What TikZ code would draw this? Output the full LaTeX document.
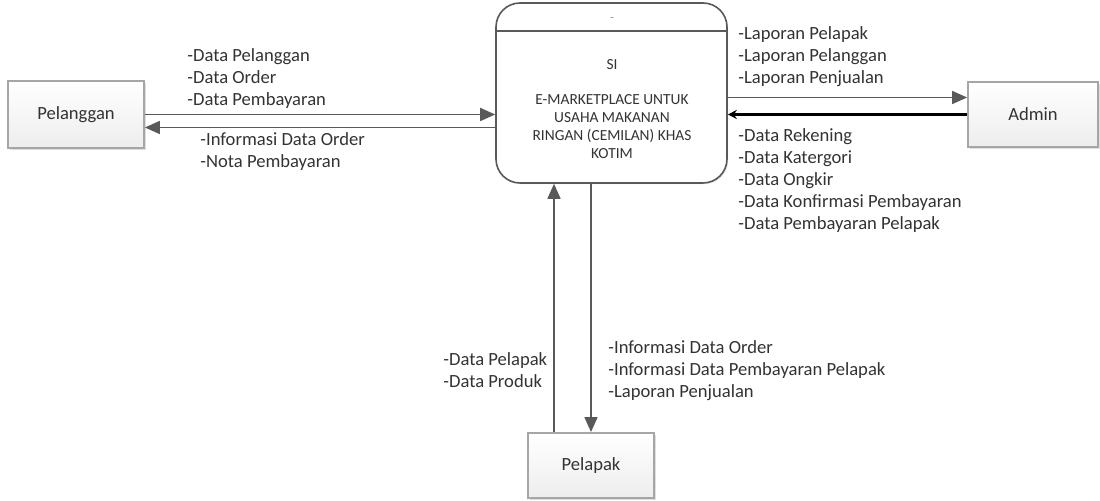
\documentclass[tikz,border=0pt]{standalone}
\usepackage{fontspec}
\setmainfont{Carlito}
\usetikzlibrary{arrows.meta,shadows,positioning}
\definecolor{linegray}{HTML}{595959}
\definecolor{txtgray}{HTML}{333333}

\begin{document}
\begin{tikzpicture}[x=0.5pt,y=-0.5pt,
                    flow/.style={draw=linegray,line width=0.8pt,-{Triangle[length=7.5pt,width=6.5pt]}},
                    heavyflow/.style={draw=black,line width=1.3pt,-{Stealth[length=4.5pt,width=4.5pt]}}]
  \tikzstyle{entity}=[rectangle,draw=gray!70,line width=0.9pt,top color=white,bottom color=gray!14,
                      text=txtgray,font=\fontsize{9.3}{11}\selectfont,
                      drop shadow={shadow xshift=1pt,shadow yshift=-1pt,opacity=.25}]
  \tikzstyle{proc}=[rectangle,rounded corners=12pt,draw=linegray,line width=0.8pt,fill=white,
                    minimum width=115.5pt,minimum height=90pt,
                    drop shadow={shadow xshift=0.6pt,shadow yshift=-0.6pt,opacity=.2}]
  \tikzstyle{lbl}=[anchor=west,inner sep=0pt,align=left,text=txtgray,font=\fontsize{9.3}{11}\selectfont]
  \tikzstyle{proctext}=[inner sep=0pt,align=center,text=txtgray,font=\fontsize{7.7}{9}\selectfont]

  \useasboundingbox (0,0) rectangle (1100,501);

  % process and external entities
  \node[proc] (si) at (611.5,93) {};
  \node[entity,minimum width=68pt,minimum height=33.5pt] (pel) at (76,114.5) {Pelanggan};
  \node[entity,minimum width=65pt,minimum height=32.5pt] (adm) at (1033,114.5) {Admin};
  \node[entity,minimum width=63pt,minimum height=32.5pt] (plk) at (591,465.5) {Pelapak};

  \draw[draw=linegray,line width=0.8pt] ([yshift=-14.5pt]si.north west) -- ([yshift=-14.5pt]si.north east);
  \node[proctext,font=\fontsize{4}{4}\selectfont] (siid) at (612,19) {--};
  \node[proctext] (sino) at (612,65) {SI};
  \node[proctext] (siname) at (612,127) {E-MARKETPLACE UNTUK\\USAHA MAKANAN\\RINGAN (CEMILAN) KHAS\\KOTIM};

  % flows
  \draw[flow] (pel.east) -- (pel.east -| si.west);
  \draw[flow] ([yshift=-6.5pt]pel.east -| si.west) -- ([yshift=-6.5pt]pel.east);
  \draw[flow] ([yshift=8.5pt]adm.west -| si.east) -- ([yshift=8.5pt]adm.west);
  \draw[heavyflow] (adm.west) -- (adm.west -| si.east);
  \draw[flow] ([xshift=-18.5pt]plk.north) -- ([xshift=-18.5pt]plk.north |- si.south);
  \draw[flow] (plk.north |- si.south) -- (plk.north);

  % labels
  \node[lbl] (lblpelin) at (187,79) {-Data Pelanggan\\-Data Order\\-Data Pembayaran};
  \node[lbl] (lblpelout) at (200,152) {-Informasi Data Order\\-Nota Pembayaran};
  \node[lbl] (lbladmout) at (738,57) {-Laporan Pelapak\\-Laporan Pelanggan\\-Laporan Penjualan};
  \node[lbl] (lbladmin) at (738,181) {-Data Rekening\\-Data Katergori\\-Data Ongkir\\-Data Konfirmasi Pembayaran\\-Data Pembayaran Pelapak};
  \node[lbl] (lblplkin) at (443,370) {-Data Pelapak\\-Data Produk};
  \node[lbl] (lblplkout) at (608,371) {-Informasi Data Order\\-Informasi Data Pembayaran Pelapak\\-Laporan Penjualan};
\end{tikzpicture}
\end{document}
